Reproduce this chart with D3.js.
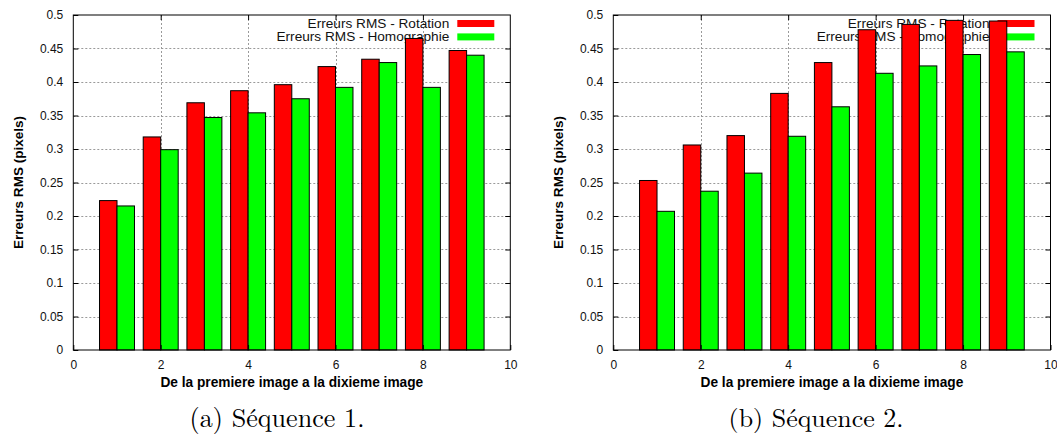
<!DOCTYPE html>
<html>
<head>
<meta charset="utf-8">
<script src="https://cdn.jsdelivr.net/npm/d3@7"></script>
<style>
  html, body { margin: 0; padding: 0; background: #fff; }
  svg { display: block; }
</style>
</head>
<body>
<svg id="chart" width="1057" height="434"></svg>
<script>
// ---------------- data ----------------
const categories = [1, 2, 3, 4, 5, 6, 7, 8, 9];
const seriesNames = ["Erreurs RMS - Rotation", "Erreurs RMS - Homographie"];
const seq1Rotation    = [0.223, 0.318, 0.369, 0.387, 0.396, 0.423, 0.434, 0.465, 0.447];
const seq1Homographie = [0.215, 0.299, 0.347, 0.354, 0.375, 0.392, 0.429, 0.392, 0.440];
const seq2Rotation    = [0.253, 0.306, 0.320, 0.383, 0.429, 0.478, 0.486, 0.492, 0.491];
const seq2Homographie = [0.207, 0.237, 0.264, 0.319, 0.363, 0.413, 0.424, 0.441, 0.445];
const xTicks = [0, 2, 4, 6, 8, 10];
const yTicks = [0, 0.05, 0.1, 0.15, 0.2, 0.25, 0.3, 0.35, 0.4, 0.45, 0.5];
const xDomain = [0, 10];
const yDomain = [0, 0.5];
const xTitle = "De la premiere image a la dixieme image";
const yTitle = "Erreurs RMS (pixels)";
const captions = ["(a) Séquence 1.", "(b) Séquence 2."];
const colors = ["#ff0000", "#00ff00"];
const barWidth = 0.4; // in x units

// ---------------- layout ----------------
const panels = [
  { left: 73.3, right: 510.3, top: 15, bottom: 350, series: [seq1Rotation, seq1Homographie], caption: captions[0], capX: 277 },
  { left: 613.3, right: 1050.5, top: 15, bottom: 350, series: [seq2Rotation, seq2Homographie], caption: captions[1], capX: 816 }
];

const svg = d3.select("#chart");
const sans = "'Liberation Sans', Arial, Helvetica, sans-serif";
const serif = "'Latin Modern Roman', 'CMU Serif', 'DejaVu Serif', 'Liberation Serif', serif";

function fitWidth(sel, baseSize, target) {
  const w = sel.node().getComputedTextLength();
  if (w > 0) sel.attr("font-size", baseSize * target / w);
}

panels.forEach(p => {
  const g = svg.append("g");
  const x = d3.scaleLinear().domain(xDomain).range([p.left, p.right]);
  const y = d3.scaleLinear().domain(yDomain).range([p.bottom, p.top]);

  // grid (back)
  const grid = g.append("g");
  grid.selectAll("line.gy").data(yTicks.slice(1, -1)).join("line")
    .attr("x1", p.left).attr("x2", p.right)
    .attr("y1", d => Math.round(y(d)) + 0.5).attr("y2", d => Math.round(y(d)) + 0.5)
    .attr("stroke", "#9a9a9a").attr("stroke-width", 1).attr("stroke-dasharray", "2,2");
  grid.selectAll("line.gx").data(xTicks.slice(1, -1)).join("line")
    .attr("y1", p.top).attr("y2", p.bottom)
    .attr("x1", d => Math.round(x(d)) + 0.5).attr("x2", d => Math.round(x(d)) + 0.5)
    .attr("stroke", "#9a9a9a").attr("stroke-width", 1).attr("stroke-dasharray", "2,2");

  // legend (behind bars)
  const swW = 37, swH = 7;
  const swRight = p.right - 16;
  seriesNames.forEach((name, i) => {
    const cy = 23.5 + i * 13.4;
    g.append("rect")
      .attr("x", swRight - swW).attr("y", cy - swH / 2)
      .attr("width", swW).attr("height", swH)
      .attr("fill", colors[i]);
    const t = g.append("text")
      .attr("x", swRight - swW - 8).attr("y", cy)
      .attr("text-anchor", "end").attr("dominant-baseline", "central")
      .attr("font-family", sans).attr("font-size", 12).attr("fill", "#111")
      .text(name);
    if (i === 1) {
      const w = t.node().getComputedTextLength();
      const fs = 12 * 173 / w;
      g.selectAll("text.leg").attr("font-size", fs);
      t.attr("font-size", fs);
    } else {
      t.classed("leg", true);
    }
  });

  // bars
  p.series.forEach((vals, si) => {
    g.append("g").selectAll("rect").data(categories).join("rect")
      .attr("x", (c) => x(c - barWidth + si * barWidth))
      .attr("width", x(barWidth) - x(0))
      .attr("y", (c, i) => y(vals[i]))
      .attr("height", (c, i) => y(0) - y(vals[i]))
      .attr("fill", colors[si])
      .attr("stroke", "#000").attr("stroke-width", 1);
  });

  // axes with inward ticks on all sides
  const tick = 5;
  const axB = d3.axisBottom(x).tickValues(xTicks).tickSizeInner(-tick).tickSizeOuter(0).tickPadding(10).tickFormat(d3.format("d"));
  const axT = d3.axisTop(x).tickValues(xTicks.slice(1, -1)).tickSizeInner(-tick).tickSizeOuter(0).tickFormat("");
  const axL = d3.axisLeft(y).tickValues(yTicks).tickSizeInner(-tick).tickSizeOuter(0).tickPadding(10).tickFormat(d => d3.format("")(+d.toFixed(2)));
  const axR = d3.axisRight(y).tickValues(yTicks.slice(1, -1)).tickSizeInner(-tick).tickSizeOuter(0).tickFormat("");

  const styleAxis = sel => {
    sel.select(".domain").remove();
    sel.selectAll("line").attr("stroke", "#000");
    sel.selectAll("text").attr("font-family", sans).attr("font-size", 12).attr("fill", "#111");
  };
  g.append("g").attr("transform", `translate(0,${p.bottom})`).call(axB).call(styleAxis)
    .selectAll("text").attr("dy", "0.71em");
  g.append("g").attr("transform", `translate(0,${p.top})`).call(axT).call(styleAxis);
  g.append("g").attr("transform", `translate(${p.left},0)`).call(axL).call(styleAxis);
  g.append("g").attr("transform", `translate(${p.right},0)`).call(axR).call(styleAxis);

  // border
  g.append("rect")
    .attr("x", p.left).attr("y", p.top)
    .attr("width", p.right - p.left).attr("height", p.bottom - p.top)
    .attr("fill", "none").attr("stroke", "#000").attr("stroke-width", 1);

  // axis titles
  const xt = g.append("text")
    .attr("x", (p.left + p.right) / 2).attr("y", 387)
    .attr("text-anchor", "middle")
    .attr("font-family", sans).attr("font-size", 11).attr("font-weight", "bold").attr("fill", "#000")
    .text(xTitle);
  fitWidth(xt, 11, 263);
  const yt = g.append("text")
    .attr("transform", `translate(${p.left - 55},${(p.top + p.bottom) / 2}) rotate(-90)`)
    .attr("text-anchor", "middle").attr("dominant-baseline", "central")
    .attr("font-family", sans).attr("font-size", 11).attr("font-weight", "bold").attr("fill", "#000")
    .text(yTitle);
  fitWidth(yt, 11, 133);

  // caption
  const cap = g.append("text")
    .attr("x", p.capX).attr("y", 427)
    .attr("text-anchor", "middle")
    .attr("font-family", serif).attr("font-size", 19).attr("fill", "#000")
    .text(p.caption);
  fitWidth(cap, 19, 175);
});
</script>
</body>
</html>
